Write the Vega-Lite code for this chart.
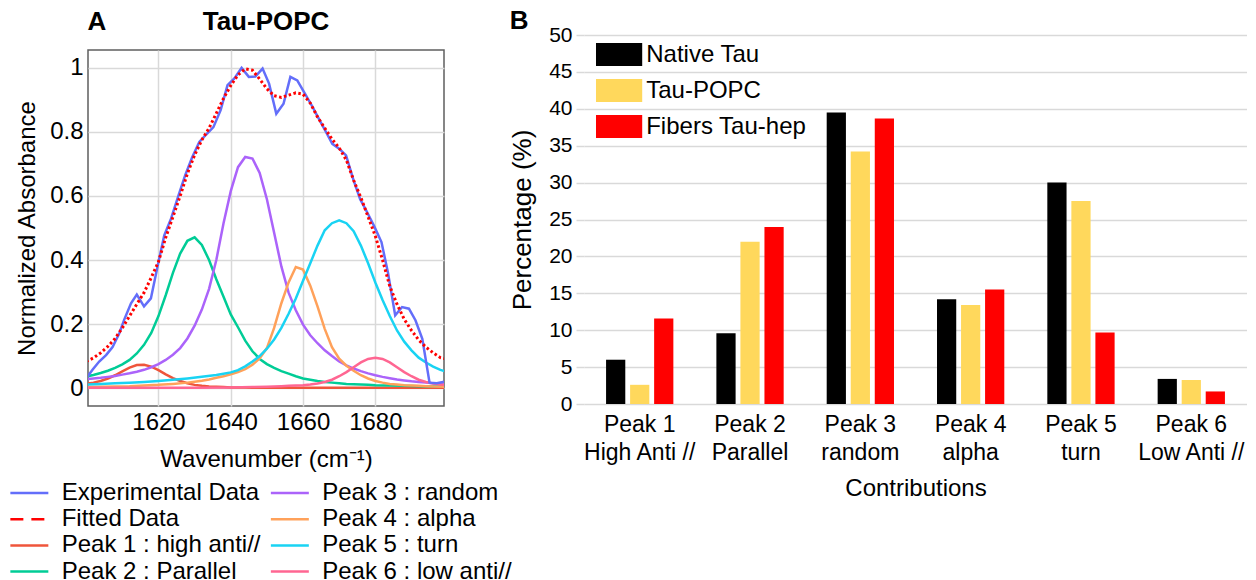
{
  "$schema": "https://vega.github.io/schema/vega-lite/v6.json",
  "padding": {"left": 14, "top": 8, "right": 0, "bottom": 0},
  "background": "white",
  "config": {
    "font": "Liberation Sans",
    "view": {"stroke": null},
    "axis": {"labelFont": "Liberation Sans", "titleFont": "Liberation Sans", "labelColor": "#000", "titleColor": "#000", "titleFontWeight": "normal", "gridColor": "#d9d9d9", "gridWidth": 1.5},
    "legend": {"labelFont": "Liberation Sans", "labelColor": "#000"},
    "title": {"font": "Liberation Sans", "fontWeight": "bold", "color": "#000"}
  },
  "resolve": {"scale": {"color": "independent"}, "legend": {"color": "independent"}},
  "datasets": {
    "bars": [
      {"peak": "Peak 1|High Anti //", "sample": "Native Tau", "pct": 6.0},
      {"peak": "Peak 1|High Anti //", "sample": "Tau-POPC", "pct": 2.6},
      {"peak": "Peak 1|High Anti //", "sample": "Fibers Tau-hep", "pct": 11.6},
      {"peak": "Peak 2|Parallel", "sample": "Native Tau", "pct": 9.6},
      {"peak": "Peak 2|Parallel", "sample": "Tau-POPC", "pct": 22.0},
      {"peak": "Peak 2|Parallel", "sample": "Fibers Tau-hep", "pct": 24.0},
      {"peak": "Peak 3|random", "sample": "Native Tau", "pct": 39.5},
      {"peak": "Peak 3|random", "sample": "Tau-POPC", "pct": 34.2},
      {"peak": "Peak 3|random", "sample": "Fibers Tau-hep", "pct": 38.7},
      {"peak": "Peak 4|alpha", "sample": "Native Tau", "pct": 14.2},
      {"peak": "Peak 4|alpha", "sample": "Tau-POPC", "pct": 13.4},
      {"peak": "Peak 4|alpha", "sample": "Fibers Tau-hep", "pct": 15.5},
      {"peak": "Peak 5|turn", "sample": "Native Tau", "pct": 30.0},
      {"peak": "Peak 5|turn", "sample": "Tau-POPC", "pct": 27.5},
      {"peak": "Peak 5|turn", "sample": "Fibers Tau-hep", "pct": 9.7},
      {"peak": "Peak 6|Low Anti //", "sample": "Native Tau", "pct": 3.4},
      {"peak": "Peak 6|Low Anti //", "sample": "Tau-POPC", "pct": 3.25},
      {"peak": "Peak 6|Low Anti //", "sample": "Fibers Tau-hep", "pct": 1.7}
    ],
    "exp": [
      {"s": "Experimental Data", "w": 1600, "v": 0.03},
      {"s": "Experimental Data", "w": 1601.8, "v": 0.058},
      {"s": "Experimental Data", "w": 1603.6, "v": 0.083},
      {"s": "Experimental Data", "w": 1605.5, "v": 0.103},
      {"s": "Experimental Data", "w": 1607.3, "v": 0.128},
      {"s": "Experimental Data", "w": 1609.2, "v": 0.172},
      {"s": "Experimental Data", "w": 1610.5, "v": 0.213},
      {"s": "Experimental Data", "w": 1612.4, "v": 0.265},
      {"s": "Experimental Data", "w": 1614, "v": 0.292},
      {"s": "Experimental Data", "w": 1616, "v": 0.255},
      {"s": "Experimental Data", "w": 1617.9, "v": 0.28},
      {"s": "Experimental Data", "w": 1619.8, "v": 0.383},
      {"s": "Experimental Data", "w": 1621.6, "v": 0.477},
      {"s": "Experimental Data", "w": 1623.5, "v": 0.53},
      {"s": "Experimental Data", "w": 1625.5, "v": 0.6},
      {"s": "Experimental Data", "w": 1627.4, "v": 0.665},
      {"s": "Experimental Data", "w": 1629.3, "v": 0.72},
      {"s": "Experimental Data", "w": 1631.3, "v": 0.769},
      {"s": "Experimental Data", "w": 1633.2, "v": 0.792},
      {"s": "Experimental Data", "w": 1635.2, "v": 0.815},
      {"s": "Experimental Data", "w": 1637.2, "v": 0.868},
      {"s": "Experimental Data", "w": 1639.1, "v": 0.946},
      {"s": "Experimental Data", "w": 1641, "v": 0.967},
      {"s": "Experimental Data", "w": 1643, "v": 1.0},
      {"s": "Experimental Data", "w": 1645, "v": 0.972},
      {"s": "Experimental Data", "w": 1646.8, "v": 0.973},
      {"s": "Experimental Data", "w": 1648.8, "v": 0.998},
      {"s": "Experimental Data", "w": 1650.6, "v": 0.951},
      {"s": "Experimental Data", "w": 1652.6, "v": 0.857},
      {"s": "Experimental Data", "w": 1654.6, "v": 0.888},
      {"s": "Experimental Data", "w": 1656.5, "v": 0.972},
      {"s": "Experimental Data", "w": 1658.4, "v": 0.961},
      {"s": "Experimental Data", "w": 1660.4, "v": 0.922},
      {"s": "Experimental Data", "w": 1662.3, "v": 0.885},
      {"s": "Experimental Data", "w": 1664.2, "v": 0.845},
      {"s": "Experimental Data", "w": 1666.2, "v": 0.803},
      {"s": "Experimental Data", "w": 1668.1, "v": 0.763},
      {"s": "Experimental Data", "w": 1670, "v": 0.748},
      {"s": "Experimental Data", "w": 1671.9, "v": 0.727},
      {"s": "Experimental Data", "w": 1673.9, "v": 0.652},
      {"s": "Experimental Data", "w": 1675.8, "v": 0.59},
      {"s": "Experimental Data", "w": 1677.7, "v": 0.55},
      {"s": "Experimental Data", "w": 1679.7, "v": 0.505},
      {"s": "Experimental Data", "w": 1681.7, "v": 0.456},
      {"s": "Experimental Data", "w": 1683.5, "v": 0.36},
      {"s": "Experimental Data", "w": 1685.5, "v": 0.227},
      {"s": "Experimental Data", "w": 1687.4, "v": 0.253},
      {"s": "Experimental Data", "w": 1689.3, "v": 0.248},
      {"s": "Experimental Data", "w": 1691.1, "v": 0.212},
      {"s": "Experimental Data", "w": 1693, "v": 0.154},
      {"s": "Experimental Data", "w": 1695, "v": 0.017},
      {"s": "Experimental Data", "w": 1697, "v": 0.015},
      {"s": "Experimental Data", "w": 1699, "v": 0.02},
      {"s": "Experimental Data", "w": 1700, "v": 0.02}
    ],
    "fit": [
      {"s": "Fitted Data", "w": 1600, "v": 0.083}, {"s": "Fitted Data", "w": 1602, "v": 0.094},
      {"s": "Fitted Data", "w": 1604, "v": 0.11}, {"s": "Fitted Data", "w": 1606, "v": 0.13},
      {"s": "Fitted Data", "w": 1608, "v": 0.155}, {"s": "Fitted Data", "w": 1610, "v": 0.188},
      {"s": "Fitted Data", "w": 1612, "v": 0.225}, {"s": "Fitted Data", "w": 1614, "v": 0.262},
      {"s": "Fitted Data", "w": 1616, "v": 0.298}, {"s": "Fitted Data", "w": 1618, "v": 0.345},
      {"s": "Fitted Data", "w": 1620, "v": 0.395}, {"s": "Fitted Data", "w": 1622, "v": 0.47},
      {"s": "Fitted Data", "w": 1624, "v": 0.535}, {"s": "Fitted Data", "w": 1626, "v": 0.6},
      {"s": "Fitted Data", "w": 1628, "v": 0.67}, {"s": "Fitted Data", "w": 1630, "v": 0.728},
      {"s": "Fitted Data", "w": 1632, "v": 0.775}, {"s": "Fitted Data", "w": 1634, "v": 0.812},
      {"s": "Fitted Data", "w": 1636, "v": 0.858}, {"s": "Fitted Data", "w": 1638, "v": 0.905},
      {"s": "Fitted Data", "w": 1640, "v": 0.945}, {"s": "Fitted Data", "w": 1642, "v": 0.978},
      {"s": "Fitted Data", "w": 1644, "v": 0.997}, {"s": "Fitted Data", "w": 1646, "v": 0.993},
      {"s": "Fitted Data", "w": 1648, "v": 0.965}, {"s": "Fitted Data", "w": 1650, "v": 0.935},
      {"s": "Fitted Data", "w": 1652, "v": 0.913}, {"s": "Fitted Data", "w": 1654, "v": 0.908},
      {"s": "Fitted Data", "w": 1656, "v": 0.915}, {"s": "Fitted Data", "w": 1658, "v": 0.922},
      {"s": "Fitted Data", "w": 1660, "v": 0.918}, {"s": "Fitted Data", "w": 1662, "v": 0.89},
      {"s": "Fitted Data", "w": 1664, "v": 0.847}, {"s": "Fitted Data", "w": 1666, "v": 0.812},
      {"s": "Fitted Data", "w": 1668, "v": 0.778}, {"s": "Fitted Data", "w": 1670, "v": 0.75},
      {"s": "Fitted Data", "w": 1672, "v": 0.712}, {"s": "Fitted Data", "w": 1674, "v": 0.649},
      {"s": "Fitted Data", "w": 1676, "v": 0.595}, {"s": "Fitted Data", "w": 1678, "v": 0.535},
      {"s": "Fitted Data", "w": 1680, "v": 0.475}, {"s": "Fitted Data", "w": 1682, "v": 0.4},
      {"s": "Fitted Data", "w": 1684, "v": 0.318}, {"s": "Fitted Data", "w": 1686, "v": 0.262},
      {"s": "Fitted Data", "w": 1688, "v": 0.215}, {"s": "Fitted Data", "w": 1690, "v": 0.18},
      {"s": "Fitted Data", "w": 1692, "v": 0.15}, {"s": "Fitted Data", "w": 1694, "v": 0.128},
      {"s": "Fitted Data", "w": 1696, "v": 0.11}, {"s": "Fitted Data", "w": 1698, "v": 0.095},
      {"s": "Fitted Data", "w": 1700, "v": 0.09}
    ],
    "peaks": [
      {"s": "Peak 1 : high anti//", "w": 1600, "v": 0.013}, {"s": "Peak 1 : high anti//", "w": 1602, "v": 0.017},
      {"s": "Peak 1 : high anti//", "w": 1604, "v": 0.022}, {"s": "Peak 1 : high anti//", "w": 1606, "v": 0.03},
      {"s": "Peak 1 : high anti//", "w": 1608, "v": 0.04}, {"s": "Peak 1 : high anti//", "w": 1610, "v": 0.052},
      {"s": "Peak 1 : high anti//", "w": 1612, "v": 0.064}, {"s": "Peak 1 : high anti//", "w": 1614, "v": 0.072},
      {"s": "Peak 1 : high anti//", "w": 1616, "v": 0.073}, {"s": "Peak 1 : high anti//", "w": 1618, "v": 0.067},
      {"s": "Peak 1 : high anti//", "w": 1620, "v": 0.056}, {"s": "Peak 1 : high anti//", "w": 1622, "v": 0.043},
      {"s": "Peak 1 : high anti//", "w": 1624, "v": 0.031}, {"s": "Peak 1 : high anti//", "w": 1626, "v": 0.022},
      {"s": "Peak 1 : high anti//", "w": 1628, "v": 0.015}, {"s": "Peak 1 : high anti//", "w": 1630, "v": 0.01},
      {"s": "Peak 1 : high anti//", "w": 1632, "v": 0.007}, {"s": "Peak 1 : high anti//", "w": 1634, "v": 0.005},
      {"s": "Peak 1 : high anti//", "w": 1636, "v": 0.004}, {"s": "Peak 1 : high anti//", "w": 1638, "v": 0.003},
      {"s": "Peak 1 : high anti//", "w": 1640, "v": 0.002}, {"s": "Peak 1 : high anti//", "w": 1642, "v": 0.002},
      {"s": "Peak 1 : high anti//", "w": 1644, "v": 0.002}, {"s": "Peak 1 : high anti//", "w": 1646, "v": 0.001},
      {"s": "Peak 1 : high anti//", "w": 1650, "v": 0.001}, {"s": "Peak 1 : high anti//", "w": 1660, "v": 0.001},
      {"s": "Peak 1 : high anti//", "w": 1670, "v": 0.001}, {"s": "Peak 1 : high anti//", "w": 1680, "v": 0.001},
      {"s": "Peak 1 : high anti//", "w": 1690, "v": 0.001}, {"s": "Peak 1 : high anti//", "w": 1700, "v": 0.001},

      {"s": "Peak 2 : Parallel", "w": 1600, "v": 0.036}, {"s": "Peak 2 : Parallel", "w": 1602, "v": 0.041},
      {"s": "Peak 2 : Parallel", "w": 1604, "v": 0.047}, {"s": "Peak 2 : Parallel", "w": 1606, "v": 0.054},
      {"s": "Peak 2 : Parallel", "w": 1608, "v": 0.063}, {"s": "Peak 2 : Parallel", "w": 1610, "v": 0.074},
      {"s": "Peak 2 : Parallel", "w": 1612, "v": 0.088}, {"s": "Peak 2 : Parallel", "w": 1614, "v": 0.108},
      {"s": "Peak 2 : Parallel", "w": 1616, "v": 0.135}, {"s": "Peak 2 : Parallel", "w": 1618, "v": 0.172},
      {"s": "Peak 2 : Parallel", "w": 1620, "v": 0.225}, {"s": "Peak 2 : Parallel", "w": 1622, "v": 0.29},
      {"s": "Peak 2 : Parallel", "w": 1624, "v": 0.36}, {"s": "Peak 2 : Parallel", "w": 1626, "v": 0.42},
      {"s": "Peak 2 : Parallel", "w": 1628, "v": 0.46}, {"s": "Peak 2 : Parallel", "w": 1630, "v": 0.471},
      {"s": "Peak 2 : Parallel", "w": 1632, "v": 0.447}, {"s": "Peak 2 : Parallel", "w": 1634, "v": 0.4},
      {"s": "Peak 2 : Parallel", "w": 1636, "v": 0.34}, {"s": "Peak 2 : Parallel", "w": 1638, "v": 0.285},
      {"s": "Peak 2 : Parallel", "w": 1640, "v": 0.23}, {"s": "Peak 2 : Parallel", "w": 1642, "v": 0.19},
      {"s": "Peak 2 : Parallel", "w": 1644, "v": 0.148}, {"s": "Peak 2 : Parallel", "w": 1646, "v": 0.115},
      {"s": "Peak 2 : Parallel", "w": 1648, "v": 0.091}, {"s": "Peak 2 : Parallel", "w": 1650, "v": 0.075},
      {"s": "Peak 2 : Parallel", "w": 1652, "v": 0.063}, {"s": "Peak 2 : Parallel", "w": 1654, "v": 0.053},
      {"s": "Peak 2 : Parallel", "w": 1656, "v": 0.045}, {"s": "Peak 2 : Parallel", "w": 1658, "v": 0.037},
      {"s": "Peak 2 : Parallel", "w": 1660, "v": 0.03}, {"s": "Peak 2 : Parallel", "w": 1662, "v": 0.026},
      {"s": "Peak 2 : Parallel", "w": 1664, "v": 0.022}, {"s": "Peak 2 : Parallel", "w": 1666, "v": 0.019},
      {"s": "Peak 2 : Parallel", "w": 1668, "v": 0.017}, {"s": "Peak 2 : Parallel", "w": 1670, "v": 0.015},
      {"s": "Peak 2 : Parallel", "w": 1672, "v": 0.013}, {"s": "Peak 2 : Parallel", "w": 1674, "v": 0.012},
      {"s": "Peak 2 : Parallel", "w": 1676, "v": 0.011}, {"s": "Peak 2 : Parallel", "w": 1678, "v": 0.01},
      {"s": "Peak 2 : Parallel", "w": 1680, "v": 0.009}, {"s": "Peak 2 : Parallel", "w": 1684, "v": 0.008},
      {"s": "Peak 2 : Parallel", "w": 1688, "v": 0.007}, {"s": "Peak 2 : Parallel", "w": 1692, "v": 0.006},
      {"s": "Peak 2 : Parallel", "w": 1696, "v": 0.005}, {"s": "Peak 2 : Parallel", "w": 1700, "v": 0.005},

      {"s": "Peak 3 : random", "w": 1600, "v": 0.028}, {"s": "Peak 3 : random", "w": 1602, "v": 0.03},
      {"s": "Peak 3 : random", "w": 1604, "v": 0.032}, {"s": "Peak 3 : random", "w": 1606, "v": 0.035},
      {"s": "Peak 3 : random", "w": 1608, "v": 0.038}, {"s": "Peak 3 : random", "w": 1610, "v": 0.042},
      {"s": "Peak 3 : random", "w": 1612, "v": 0.046}, {"s": "Peak 3 : random", "w": 1614, "v": 0.051},
      {"s": "Peak 3 : random", "w": 1616, "v": 0.057}, {"s": "Peak 3 : random", "w": 1618, "v": 0.065},
      {"s": "Peak 3 : random", "w": 1620, "v": 0.075}, {"s": "Peak 3 : random", "w": 1622, "v": 0.088},
      {"s": "Peak 3 : random", "w": 1624, "v": 0.104}, {"s": "Peak 3 : random", "w": 1626, "v": 0.125},
      {"s": "Peak 3 : random", "w": 1628, "v": 0.155}, {"s": "Peak 3 : random", "w": 1630, "v": 0.195},
      {"s": "Peak 3 : random", "w": 1632, "v": 0.245}, {"s": "Peak 3 : random", "w": 1634, "v": 0.31},
      {"s": "Peak 3 : random", "w": 1636, "v": 0.4}, {"s": "Peak 3 : random", "w": 1638, "v": 0.515},
      {"s": "Peak 3 : random", "w": 1640, "v": 0.615}, {"s": "Peak 3 : random", "w": 1642, "v": 0.69},
      {"s": "Peak 3 : random", "w": 1644, "v": 0.722}, {"s": "Peak 3 : random", "w": 1646, "v": 0.717},
      {"s": "Peak 3 : random", "w": 1648, "v": 0.672}, {"s": "Peak 3 : random", "w": 1650, "v": 0.59},
      {"s": "Peak 3 : random", "w": 1652, "v": 0.485}, {"s": "Peak 3 : random", "w": 1654, "v": 0.38},
      {"s": "Peak 3 : random", "w": 1656, "v": 0.298}, {"s": "Peak 3 : random", "w": 1658, "v": 0.243},
      {"s": "Peak 3 : random", "w": 1660, "v": 0.198}, {"s": "Peak 3 : random", "w": 1662, "v": 0.165},
      {"s": "Peak 3 : random", "w": 1664, "v": 0.14}, {"s": "Peak 3 : random", "w": 1666, "v": 0.118},
      {"s": "Peak 3 : random", "w": 1668, "v": 0.1}, {"s": "Peak 3 : random", "w": 1670, "v": 0.083},
      {"s": "Peak 3 : random", "w": 1672, "v": 0.071}, {"s": "Peak 3 : random", "w": 1674, "v": 0.061},
      {"s": "Peak 3 : random", "w": 1676, "v": 0.053}, {"s": "Peak 3 : random", "w": 1678, "v": 0.046},
      {"s": "Peak 3 : random", "w": 1680, "v": 0.04}, {"s": "Peak 3 : random", "w": 1682, "v": 0.035},
      {"s": "Peak 3 : random", "w": 1684, "v": 0.031}, {"s": "Peak 3 : random", "w": 1686, "v": 0.027},
      {"s": "Peak 3 : random", "w": 1688, "v": 0.024}, {"s": "Peak 3 : random", "w": 1690, "v": 0.021},
      {"s": "Peak 3 : random", "w": 1692, "v": 0.019}, {"s": "Peak 3 : random", "w": 1694, "v": 0.017},
      {"s": "Peak 3 : random", "w": 1696, "v": 0.015}, {"s": "Peak 3 : random", "w": 1698, "v": 0.013},
      {"s": "Peak 3 : random", "w": 1700, "v": 0.012},

      {"s": "Peak 4 : alpha", "w": 1600, "v": 0.003}, {"s": "Peak 4 : alpha", "w": 1604, "v": 0.004},
      {"s": "Peak 4 : alpha", "w": 1608, "v": 0.005}, {"s": "Peak 4 : alpha", "w": 1612, "v": 0.006},
      {"s": "Peak 4 : alpha", "w": 1616, "v": 0.008}, {"s": "Peak 4 : alpha", "w": 1620, "v": 0.01},
      {"s": "Peak 4 : alpha", "w": 1624, "v": 0.013}, {"s": "Peak 4 : alpha", "w": 1628, "v": 0.017},
      {"s": "Peak 4 : alpha", "w": 1630, "v": 0.02}, {"s": "Peak 4 : alpha", "w": 1632, "v": 0.023},
      {"s": "Peak 4 : alpha", "w": 1634, "v": 0.027}, {"s": "Peak 4 : alpha", "w": 1636, "v": 0.032},
      {"s": "Peak 4 : alpha", "w": 1638, "v": 0.037}, {"s": "Peak 4 : alpha", "w": 1640, "v": 0.043},
      {"s": "Peak 4 : alpha", "w": 1642, "v": 0.05}, {"s": "Peak 4 : alpha", "w": 1644, "v": 0.059},
      {"s": "Peak 4 : alpha", "w": 1646, "v": 0.073}, {"s": "Peak 4 : alpha", "w": 1648, "v": 0.093},
      {"s": "Peak 4 : alpha", "w": 1650, "v": 0.125}, {"s": "Peak 4 : alpha", "w": 1652, "v": 0.188},
      {"s": "Peak 4 : alpha", "w": 1654, "v": 0.265}, {"s": "Peak 4 : alpha", "w": 1656, "v": 0.33},
      {"s": "Peak 4 : alpha", "w": 1658, "v": 0.378}, {"s": "Peak 4 : alpha", "w": 1660, "v": 0.37},
      {"s": "Peak 4 : alpha", "w": 1662, "v": 0.32}, {"s": "Peak 4 : alpha", "w": 1664, "v": 0.255},
      {"s": "Peak 4 : alpha", "w": 1666, "v": 0.185}, {"s": "Peak 4 : alpha", "w": 1668, "v": 0.128},
      {"s": "Peak 4 : alpha", "w": 1670, "v": 0.092}, {"s": "Peak 4 : alpha", "w": 1672, "v": 0.07},
      {"s": "Peak 4 : alpha", "w": 1674, "v": 0.054}, {"s": "Peak 4 : alpha", "w": 1676, "v": 0.04},
      {"s": "Peak 4 : alpha", "w": 1678, "v": 0.03}, {"s": "Peak 4 : alpha", "w": 1680, "v": 0.022},
      {"s": "Peak 4 : alpha", "w": 1682, "v": 0.017}, {"s": "Peak 4 : alpha", "w": 1684, "v": 0.013},
      {"s": "Peak 4 : alpha", "w": 1686, "v": 0.011}, {"s": "Peak 4 : alpha", "w": 1688, "v": 0.009},
      {"s": "Peak 4 : alpha", "w": 1690, "v": 0.008}, {"s": "Peak 4 : alpha", "w": 1692, "v": 0.007},
      {"s": "Peak 4 : alpha", "w": 1694, "v": 0.006}, {"s": "Peak 4 : alpha", "w": 1696, "v": 0.005},
      {"s": "Peak 4 : alpha", "w": 1700, "v": 0.004},

      {"s": "Peak 5 : turn", "w": 1600, "v": 0.011}, {"s": "Peak 5 : turn", "w": 1604, "v": 0.013},
      {"s": "Peak 5 : turn", "w": 1608, "v": 0.015}, {"s": "Peak 5 : turn", "w": 1612, "v": 0.017},
      {"s": "Peak 5 : turn", "w": 1616, "v": 0.019}, {"s": "Peak 5 : turn", "w": 1620, "v": 0.022},
      {"s": "Peak 5 : turn", "w": 1624, "v": 0.026}, {"s": "Peak 5 : turn", "w": 1628, "v": 0.03},
      {"s": "Peak 5 : turn", "w": 1632, "v": 0.035}, {"s": "Peak 5 : turn", "w": 1636, "v": 0.041},
      {"s": "Peak 5 : turn", "w": 1638, "v": 0.045}, {"s": "Peak 5 : turn", "w": 1640, "v": 0.049},
      {"s": "Peak 5 : turn", "w": 1642, "v": 0.056}, {"s": "Peak 5 : turn", "w": 1644, "v": 0.068},
      {"s": "Peak 5 : turn", "w": 1646, "v": 0.083}, {"s": "Peak 5 : turn", "w": 1648, "v": 0.1},
      {"s": "Peak 5 : turn", "w": 1650, "v": 0.123}, {"s": "Peak 5 : turn", "w": 1652, "v": 0.152},
      {"s": "Peak 5 : turn", "w": 1654, "v": 0.188}, {"s": "Peak 5 : turn", "w": 1656, "v": 0.232},
      {"s": "Peak 5 : turn", "w": 1658, "v": 0.28}, {"s": "Peak 5 : turn", "w": 1660, "v": 0.335},
      {"s": "Peak 5 : turn", "w": 1662, "v": 0.39}, {"s": "Peak 5 : turn", "w": 1664, "v": 0.445},
      {"s": "Peak 5 : turn", "w": 1666, "v": 0.493}, {"s": "Peak 5 : turn", "w": 1668, "v": 0.515},
      {"s": "Peak 5 : turn", "w": 1670, "v": 0.524}, {"s": "Peak 5 : turn", "w": 1672, "v": 0.515},
      {"s": "Peak 5 : turn", "w": 1674, "v": 0.49}, {"s": "Peak 5 : turn", "w": 1676, "v": 0.445},
      {"s": "Peak 5 : turn", "w": 1678, "v": 0.39}, {"s": "Peak 5 : turn", "w": 1680, "v": 0.33},
      {"s": "Peak 5 : turn", "w": 1682, "v": 0.275}, {"s": "Peak 5 : turn", "w": 1684, "v": 0.225},
      {"s": "Peak 5 : turn", "w": 1686, "v": 0.18}, {"s": "Peak 5 : turn", "w": 1688, "v": 0.145},
      {"s": "Peak 5 : turn", "w": 1690, "v": 0.118}, {"s": "Peak 5 : turn", "w": 1692, "v": 0.095},
      {"s": "Peak 5 : turn", "w": 1694, "v": 0.08}, {"s": "Peak 5 : turn", "w": 1696, "v": 0.067},
      {"s": "Peak 5 : turn", "w": 1698, "v": 0.057}, {"s": "Peak 5 : turn", "w": 1700, "v": 0.05},

      {"s": "Peak 6 : low anti//", "w": 1600, "v": 0.001}, {"s": "Peak 6 : low anti//", "w": 1630, "v": 0.001},
      {"s": "Peak 6 : low anti//", "w": 1640, "v": 0.002}, {"s": "Peak 6 : low anti//", "w": 1646, "v": 0.003},
      {"s": "Peak 6 : low anti//", "w": 1650, "v": 0.004}, {"s": "Peak 6 : low anti//", "w": 1652, "v": 0.005},
      {"s": "Peak 6 : low anti//", "w": 1654, "v": 0.006}, {"s": "Peak 6 : low anti//", "w": 1656, "v": 0.007},
      {"s": "Peak 6 : low anti//", "w": 1658, "v": 0.008}, {"s": "Peak 6 : low anti//", "w": 1660, "v": 0.009},
      {"s": "Peak 6 : low anti//", "w": 1662, "v": 0.011}, {"s": "Peak 6 : low anti//", "w": 1664, "v": 0.014},
      {"s": "Peak 6 : low anti//", "w": 1666, "v": 0.019}, {"s": "Peak 6 : low anti//", "w": 1668, "v": 0.026},
      {"s": "Peak 6 : low anti//", "w": 1670, "v": 0.037}, {"s": "Peak 6 : low anti//", "w": 1672, "v": 0.05},
      {"s": "Peak 6 : low anti//", "w": 1674, "v": 0.065}, {"s": "Peak 6 : low anti//", "w": 1676, "v": 0.08},
      {"s": "Peak 6 : low anti//", "w": 1678, "v": 0.091}, {"s": "Peak 6 : low anti//", "w": 1680, "v": 0.095},
      {"s": "Peak 6 : low anti//", "w": 1682, "v": 0.091}, {"s": "Peak 6 : low anti//", "w": 1684, "v": 0.08},
      {"s": "Peak 6 : low anti//", "w": 1686, "v": 0.065}, {"s": "Peak 6 : low anti//", "w": 1688, "v": 0.05},
      {"s": "Peak 6 : low anti//", "w": 1690, "v": 0.037}, {"s": "Peak 6 : low anti//", "w": 1692, "v": 0.026},
      {"s": "Peak 6 : low anti//", "w": 1694, "v": 0.019}, {"s": "Peak 6 : low anti//", "w": 1696, "v": 0.014},
      {"s": "Peak 6 : low anti//", "w": 1698, "v": 0.011}, {"s": "Peak 6 : low anti//", "w": 1700, "v": 0.009}
    ]
  },
  "hconcat": [
    {
      "spacing": -28,
      "resolve": {"scale": {"color": "independent"}, "legend": {"color": "independent"}},
      "vconcat": [
        {
          "width": 356,
          "height": 1,
          "title": {"text": "A", "anchor": "start", "fontSize": 26, "offset": 0},
          "data": {"values": [{"k": 1}]},
          "mark": {"type": "rule", "opacity": 0},
          "encoding": {}
        },
        {
          "width": 356,
          "height": 356,
          "view": {"stroke": "#5f5f5f", "strokeWidth": 1.5},
          "title": {"text": "Tau-POPC", "fontSize": 26, "offset": 15, "anchor": "middle"},
          "encoding": {
            "x": {
              "field": "w", "type": "quantitative",
              "scale": {"domain": [1600.5, 1699], "nice": false, "zero": false},
              "axis": {"values": [1620, 1640, 1660, 1680], "format": "d", "title": "Wavenumber (cm⁻¹)", "titleFontSize": 24, "labelFontSize": 24, "ticks": false, "domain": false, "labelPadding": 4, "titlePadding": 13, "grid": true}
            },
            "y": {
              "field": "v", "type": "quantitative",
              "scale": {"domain": [-0.056, 1.056], "nice": false, "zero": false},
              "axis": {"values": [0, 0.2, 0.4, 0.6, 0.8, 1], "format": "~g", "title": "Normalized Absorbance", "titleFontSize": 24, "labelFontSize": 24, "ticks": false, "domain": false, "labelPadding": 5, "titlePadding": 10, "grid": true}
            },
            "color": {
              "field": "s", "type": "nominal",
              "scale": {
                "domain": ["Experimental Data", "Fitted Data", "Peak 1 : high anti//", "Peak 2 : Parallel", "Peak 3 : random", "Peak 4 : alpha", "Peak 5 : turn", "Peak 6 : low anti//"],
                "range": ["#636EFA", "#FF0000", "#EF553B", "#00CC96", "#AB63FA", "#FFA15A", "#19D3F3", "#FF6692"]
              },
              "legend": {
                "orient": "none", "legendX": -72.65, "legendY": 429,
                "title": null, "columns": 2, "columnPadding": 4.5, "rowPadding": 0.2,
                "symbolType": "M-1.5,0H1.5", "symbolSize": 641, "symbolStrokeWidth": 2.5,
                "labelFontSize": 24, "labelOffset": 18.35, "labelLimit": 400,
                "encode": {"symbols": {"update": {"strokeDash": {"signal": "datum.value === 'Fitted Data' ? [13, 8] : []"}}}}
              }
            }
          },
          "layer": [
            {"data": {"name": "peaks"}, "mark": {"type": "line", "strokeWidth": 2.5, "clip": true}},
            {"data": {"name": "exp"}, "mark": {"type": "line", "strokeWidth": 2.5, "clip": true}},
            {"data": {"name": "fit"}, "mark": {"type": "line", "strokeWidth": 3, "strokeDash": [2.5, 2.5], "clip": true}}
          ]
        }
      ]
    },
    {
      "width": 663,
      "height": 369,
      "title": {"text": "B", "anchor": "start", "frame": "bounds", "fontSize": 26, "offset": -10},
      "data": {"name": "bars"},
      "mark": {"type": "bar"},
      "encoding": {
        "x": {
          "field": "peak", "type": "nominal", "sort": null,
          "scale": {"paddingInner": 0.39, "paddingOuter": 0.2},
          "axis": {"labelExpr": "split(datum.label, '|')", "labelAngle": 0, "labelFontSize": 23, "labelLineHeight": 28, "ticks": false, "domain": false, "labelPadding": 9, "title": "Contributions", "titleFontSize": 24, "titlePadding": 12}
        },
        "xOffset": {
          "field": "sample", "type": "nominal",
          "scale": {"domain": ["Native Tau", "Tau-POPC", "Fibers Tau-hep"], "paddingInner": 0.2, "paddingOuter": 0}
        },
        "y": {
          "field": "pct", "type": "quantitative",
          "scale": {"domain": [0, 50], "nice": false},
          "axis": {"values": [0, 5, 10, 15, 20, 25, 30, 35, 40, 45, 50], "title": "Percentage (%)", "titleFontSize": 26, "labelFontSize": 21, "domain": false, "tickSize": 8, "tickColor": "#d9d9d9", "tickWidth": 1.5, "labelPadding": 4, "titlePadding": 13, "grid": true}
        },
        "color": {
          "field": "sample", "type": "nominal",
          "scale": {"domain": ["Native Tau", "Tau-POPC", "Fibers Tau-hep"], "range": ["#000000", "#FFD85C", "#FF0000"]},
          "legend": {
            "orient": "none", "legendX": 18.6, "legendY": 3,
            "title": null, "direction": "vertical",
            "symbolType": "M-1.4,-0.7H1.4V0.7H-1.4Z", "symbolSize": 1089, "symbolStrokeWidth": 0, "symbolOpacity": 1,
            "labelFontSize": 24, "labelOffset": 10.6, "labelLimit": 400, "rowPadding": 7
          }
        }
      }
    }
  ],
  "spacing": -5
}
